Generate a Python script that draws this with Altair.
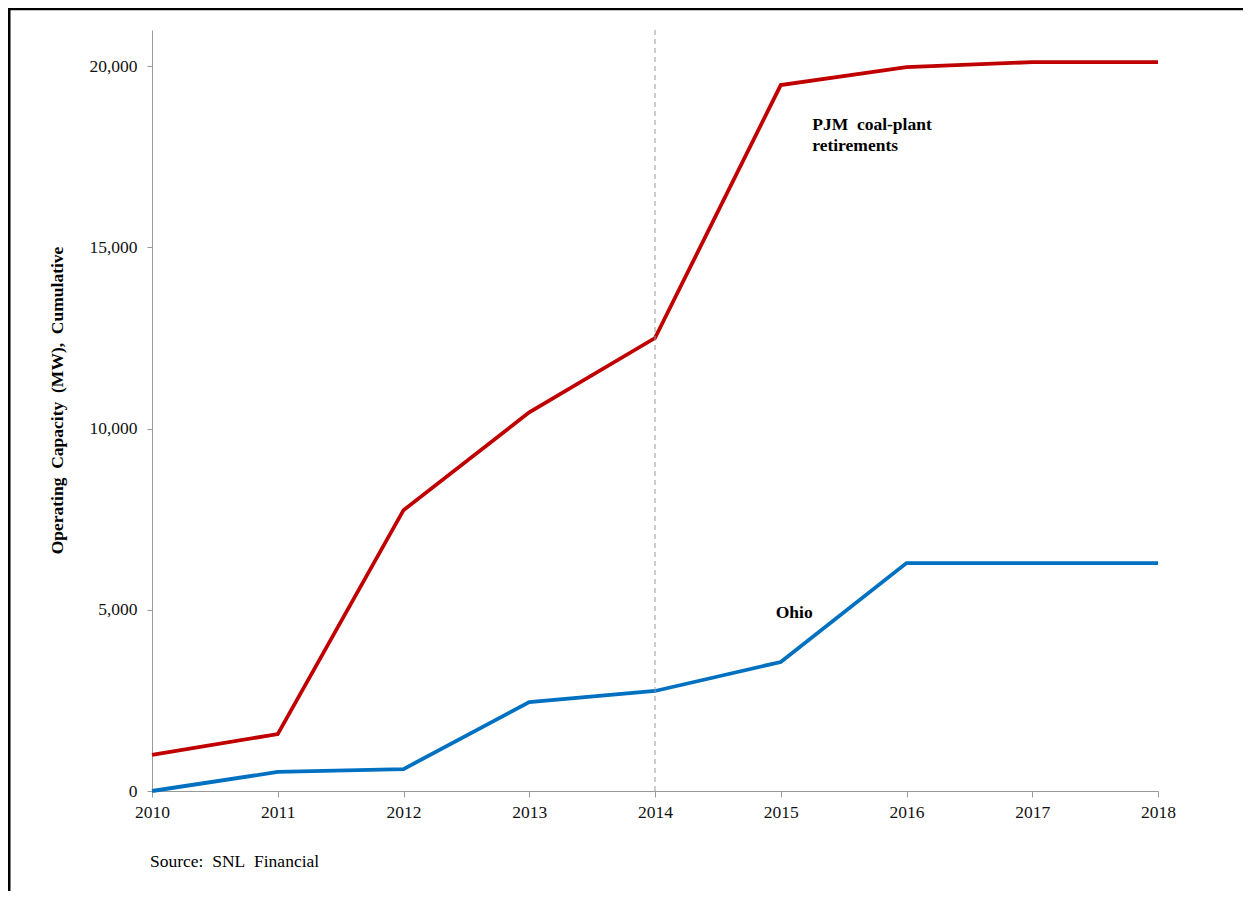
import altair as alt
import pandas as pd

years = [2010, 2011, 2012, 2013, 2014, 2015, 2016, 2017, 2018]
pjm = [1000, 1570, 7750, 10450, 12500, 19480, 19975, 20115, 20115]
ohio = [0, 525, 605, 2455, 2760, 3560, 6290, 6290, 6290]
series_names = ["PJM coal-plant retirements", "Ohio"]
series_colors = ["#C00000", "#0070C0"]

label_text = ["PJM\u00a0 coal-plant", "retirements", "Ohio"]
label_x = [2015.25, 2015.25, 2014.96]
label_y = [18380, 17800, 4910]

y_ticks = [0, 5000, 10000, 15000, 20000]
marker_year = [2014]
y_title = "Operating\u00a0\u00a0Capacity\u00a0\u00a0(MW),\u00a0\u00a0Cumulative"
source_text = ["Source:\u00a0 SNL\u00a0 Financial"]

rows = []
for n, vals in zip(series_names, [pjm, ohio]):
    for yr, v in zip(years, vals):
        rows.append({"year": yr, "value": v, "series": n})
df = pd.DataFrame(rows)
labels = pd.DataFrame({"text": label_text, "x": label_x, "y": label_y})
marker = pd.DataFrame({"year": marker_year})
source = pd.DataFrame({"text": source_text})

W, H = 1006, 761
FONT = "Liberation Serif"

xscale = alt.Scale(domain=[2010, 2018], nice=False, zero=False)
yscale = alt.Scale(domain=[0, 21000], nice=False)

xaxis = alt.Axis(values=years, format="d", title=None, grid=False,
                 labelPadding=6, tickSize=6, labelFlush=False)
yaxis = alt.Axis(values=y_ticks, format=",.0f", title=y_title, grid=False,
                 tickSize=5, labelPadding=10, titlePadding=22, labelFlush=False,
                 titleFont=FONT, titleFontWeight="bold", titleY=370,
                 titleFontSize=17.5, titleColor="#000")

lines = alt.Chart(df).mark_line(strokeWidth=3.8, clip=False).encode(
    x=alt.X("year:Q", scale=xscale, axis=xaxis),
    y=alt.Y("value:Q", scale=yscale, axis=yaxis),
    color=alt.Color("series:N", scale=alt.Scale(domain=series_names, range=series_colors),
                    legend=None),
)

rule = alt.Chart(marker).mark_rule(color="#999999", strokeDash=[5, 4], strokeWidth=1).encode(
    x=alt.X("year:Q", scale=xscale, axis=xaxis)
)

text = alt.Chart(labels).mark_text(align="left", baseline="middle", font=FONT,
                                   fontWeight="bold", fontSize=17.5, color="#000").encode(
    x=alt.X("x:Q", scale=xscale, axis=xaxis),
    y=alt.Y("y:Q", scale=yscale, axis=yaxis),
    text="text:N",
)

src = alt.Chart(source).mark_text(align="left", baseline="middle", font=FONT,
                                  fontSize=17.5, color="#000").encode(
    x=alt.value(-2), y=alt.value(832), text="text:N"
)

border_df = pd.DataFrame({"k": [0]})
left_border = alt.Chart(border_df).mark_rule(color="#000", strokeWidth=3, clip=False).encode(
    x=alt.value(-143), y=alt.value(-22), y2=alt.value(H + 150)
)
top_border = alt.Chart(border_df).mark_rule(color="#000", strokeWidth=2.5, clip=False).encode(
    x=alt.value(-144.5), x2=alt.value(W + 150), y=alt.value(-21)
)

chart = alt.layer(lines, rule, text, src, left_border, top_border).properties(
    width=W, height=H,
    autosize=alt.AutoSizeParams(type="none"),
    padding={"left": 144, "top": 22, "right": 85, "bottom": 100},
).configure_view(stroke=None).configure_axis(
    domainColor="#999999", tickColor="#999999", labelFont=FONT,
    labelFontSize=17.5, labelColor="#111"
)

chart.save("out.html", embed_options={"renderer": "svg", "actions": False})
